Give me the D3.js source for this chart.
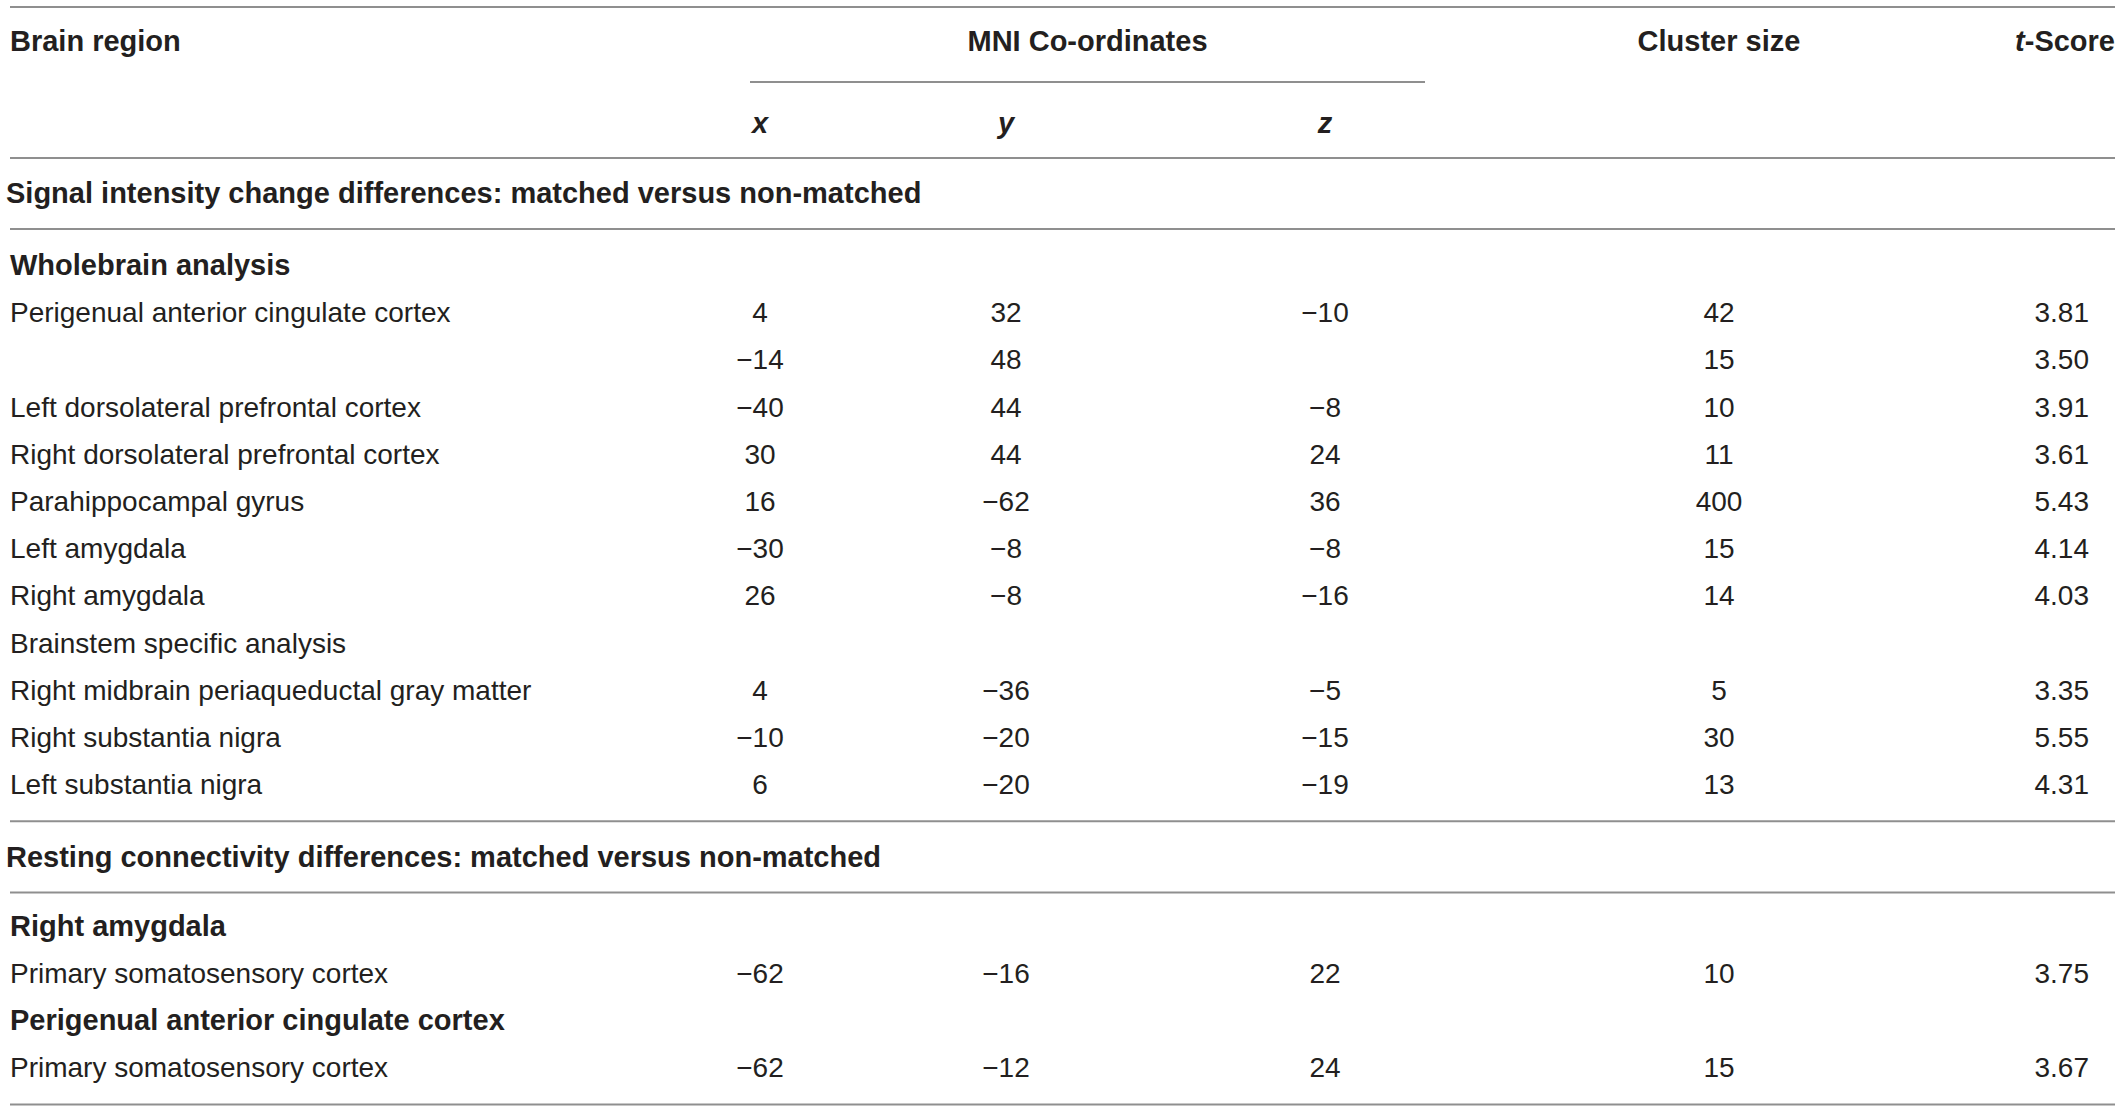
<!DOCTYPE html>
<html>
<head>
<meta charset="utf-8">
<script src="https://cdn.jsdelivr.net/npm/d3@7"></script>
<style>
  html, body { margin: 0; padding: 0; background: #fff; }
  svg text { font-family: "Liberation Sans", Arial, Helvetica, sans-serif; fill: #231f20; }
</style>
</head>
<body>
<div id="table"></div>
<script>
// MNI table

const regions = [
    "Perigenual anterior cingulate cortex", "", "Left dorsolateral prefrontal cortex",
    "Right dorsolateral prefrontal cortex", "Parahippocampal gyrus", "Left amygdala",
    "Right amygdala", "Right midbrain periaqueductal gray matter", "Right substantia nigra",
    "Left substantia nigra", "Primary somatosensory cortex", "Primary somatosensory cortex"
];
const xCoords = [4, -14, -40, 30, 16, -30, 26, 4, -10, 6, -62, -62];
const yCoords = [32, 48, 44, 44, -62, -8, -8, -36, -20, -20, -16, -12];
const zCoords = [-10, null, -8, 24, 36, -8, -16, -5, -15, -19, 22, 24];
const clusterSizes = [42, 15, 10, 11, 400, 15, 14, 5, 30, 13, 10, 15];
const tScores = [3.81, 3.50, 3.91, 3.61, 5.43, 4.14, 4.03, 3.35, 5.55, 4.31, 3.75, 3.67];

const sections = [
    "Signal intensity change differences: matched versus non-matched",
    "Resting connectivity differences: matched versus non-matched"
];
// subheadings: [text, bold, index of first data row that follows]
const subheads = [
    ["Wholebrain analysis", true, 0],
    ["Brainstem specific analysis", false, 7],
    ["Right amygdala", true, 10],
    ["Perigenual anterior cingulate cortex", true, 11]
];
const columns = ["x", "y", "z", "Cluster size", "t-Score"];

function drawTable() {
    const width = 2121, height = 1112;
    const svg = d3.select("#table").append("svg")
        .attr("width", width).attr("height", height)
        .attr("viewBox", `0 0 ${width} ${height}`);

    const left = 10, right = 2115;
    const rowH = 47.2;
    const fontSize = 28;

    // column positions (x, y, z, cluster centred; t-score right aligned)
    const col = d3.scaleOrdinal().domain(columns).range([760, 1006, 1325, 1719, 2089]);

    // build row layout: each entry gets a slot index on the row scale
    const rows = [];
    let slot = 0;
    const subStart = new Map(subheads.map(s => [s[2], s]));
    regions.forEach((r, i) => {
        if (i === 10) slot += 2; // room for the second section title
        if (subStart.has(i)) {
            const s = subStart.get(i);
            rows.push({ type: "sub", text: s[0], bold: s[1], slot: slot++ });
        }
        rows.push({ type: "data", i, slot: slot++ });
    });
    const lastSlot = slot - 1;

    const y = d3.scaleLinear().domain([0, 1]).range([275, 275 + rowH]);

    // horizontal rules
    const rule = (y0, x1, x2) => svg.append("line")
        .attr("x1", x1).attr("x2", x2).attr("y1", y0).attr("y2", y0)
        .attr("stroke", "#8f8f8f").attr("stroke-width", 2);

    rule(7, left, right);
    rule(82, 750, 1425);
    rule(158, left, right);
    rule(229, left, right);
    rule(y(11) + 27, left, right);
    rule(y(12) + 51, left, right);
    rule(y(lastSlot) + 27, left, right);

    // header
    const head = svg.append("g").style("font-weight", "bold").style("font-size", "29px");
    head.append("text").attr("x", left).attr("y", 51).text("Brain region");
    head.append("text").attr("x", (750 + 1425) / 2).attr("y", 51)
        .attr("text-anchor", "middle").text("MNI Co-ordinates");
    head.append("text").attr("x", col("Cluster size")).attr("y", 51)
        .attr("text-anchor", "middle").text("Cluster size");
    const ts = head.append("text").attr("x", right).attr("y", 51).attr("text-anchor", "end");
    ts.append("tspan").style("font-style", "italic").text("t");
    ts.append("tspan").text("-Score");

    head.selectAll(".axis")
        .data(columns.slice(0, 3))
        .enter().append("text")
        .attr("x", d => col(d)).attr("y", 133)
        .attr("text-anchor", "middle")
        .style("font-style", "italic")
        .text(d => d);

    // section titles
    svg.selectAll(".section")
        .data(sections)
        .enter().append("text")
        .attr("class", "section")
        .attr("x", 6)
        .attr("y", (d, i) => i === 0 ? 203 : y(12) + 26)
        .style("font-weight", "bold").style("font-size", "29px")
        .text(d => d);

    const body = svg.append("g").style("font-size", fontSize + "px");

    body.selectAll(".sub")
        .data(rows.filter(r => r.type === "sub"))
        .enter().append("text")
        .attr("class", "sub")
        .attr("x", left)
        .attr("y", d => y(d.slot))
        .style("font-weight", d => d.bold ? "bold" : "normal")
        .style("font-size", d => d.bold ? "29px" : fontSize + "px")
        .text(d => d.text);

    const fmtInt = d3.format("d");
    const fmtT = d3.format(".2f");

    const dataRows = body.selectAll(".row")
        .data(rows.filter(r => r.type === "data"))
        .enter().append("g")
        .attr("class", "row")
        .attr("transform", d => `translate(0,${y(d.slot)})`);

    dataRows.append("text").attr("x", left).text(d => regions[d.i]);
    dataRows.append("text").attr("x", col("x")).attr("text-anchor", "middle")
        .text(d => fmtInt(xCoords[d.i]));
    dataRows.append("text").attr("x", col("y")).attr("text-anchor", "middle")
        .text(d => fmtInt(yCoords[d.i]));
    dataRows.append("text").attr("x", col("z")).attr("text-anchor", "middle")
        .text(d => zCoords[d.i] == null ? "" : fmtInt(zCoords[d.i]));
    dataRows.append("text").attr("x", col("Cluster size")).attr("text-anchor", "middle")
        .text(d => fmtInt(clusterSizes[d.i]));
    dataRows.append("text").attr("x", col("t-Score")).attr("text-anchor", "end")
        .text(d => fmtT(tScores[d.i]));
}

drawTable();
</script>
</body>
</html>
